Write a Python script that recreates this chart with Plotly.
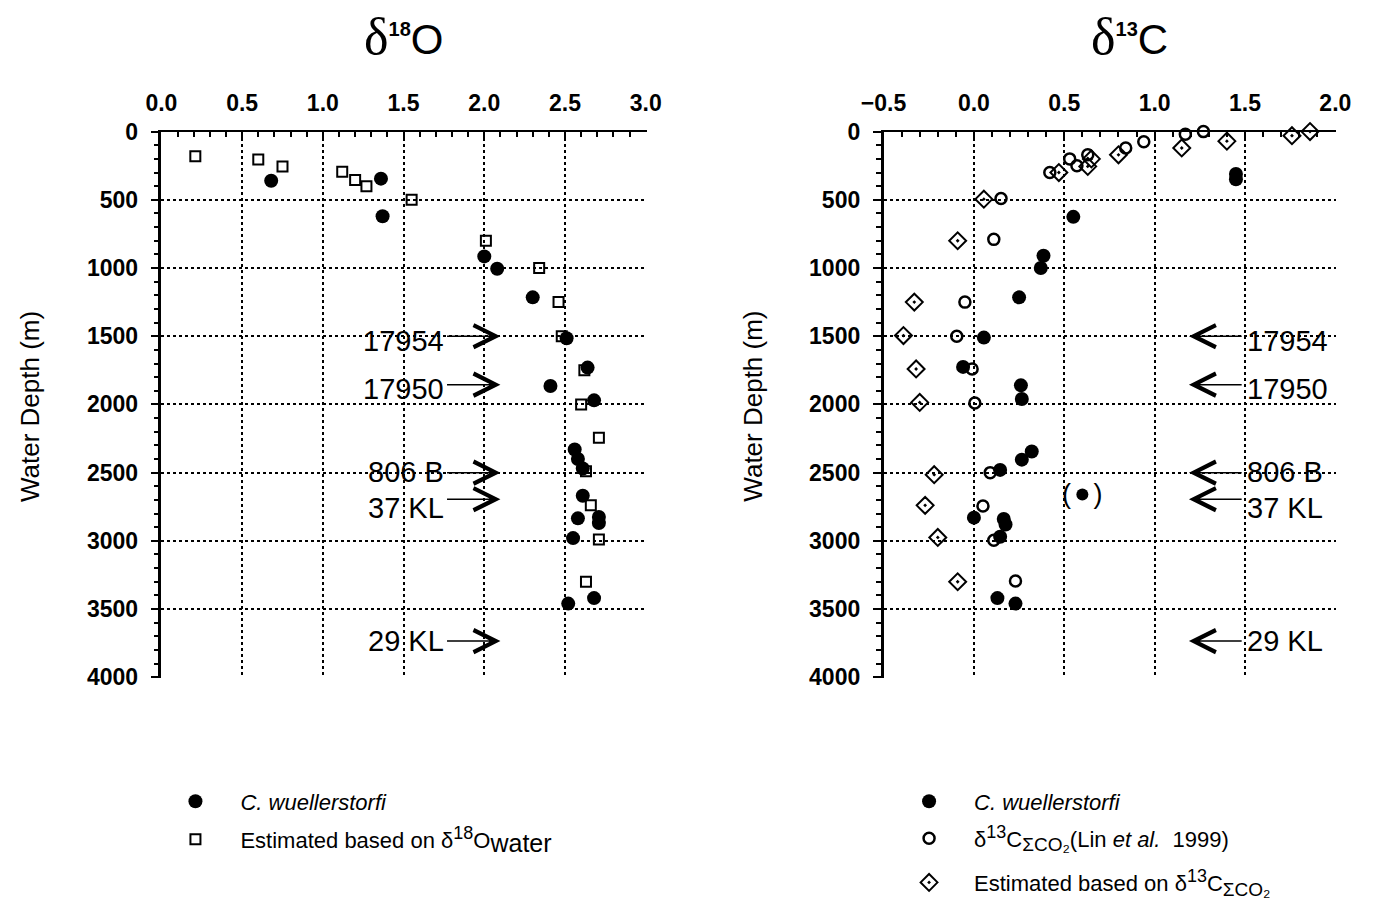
import plotly.graph_objects as go

# d18O panel
o_cw_x = [0.68, 1.36, 1.37, 2.00, 2.08, 2.30, 2.51, 2.64, 2.41, 2.68, 2.56, 2.58, 2.61, 2.61, 2.58, 2.71, 2.71, 2.55, 2.68, 2.52]
o_cw_y = [360, 345, 620, 915, 1005, 1215, 1515, 1730, 1865, 1970, 2330, 2400, 2470, 2670, 2835, 2825, 2870, 2980, 3420, 3460]
o_est_x = [0.21, 0.60, 0.75, 1.12, 1.20, 1.27, 1.55, 2.01, 2.34, 2.46, 2.48, 2.62, 2.60, 2.71, 2.63, 2.66, 2.71, 2.63]
o_est_y = [180, 205, 255, 295, 355, 400, 500, 800, 1000, 1250, 1500, 1750, 2000, 2245, 2490, 2740, 2990, 3300]

# d13C panel
c_cw_x = [1.45, 1.45, 0.55, 0.385, 0.37, 0.25, 0.055, -0.06, 0.26, 0.265, 0.32, 0.265, 0.145, 0.0, 0.165, 0.175, 0.145, 0.13, 0.23]
c_cw_y = [310, 350, 625, 910, 1000, 1215, 1510, 1725, 1860, 1960, 2345, 2405, 2480, 2830, 2840, 2880, 2970, 3420, 3460]
c_cw_doubt_x = [0.60]
c_cw_doubt_y = [2660]
c_lin_x = [1.27, 1.17, 0.94, 0.84, 0.63, 0.53, 0.57, 0.42, 0.15, 0.11, -0.05, -0.095, -0.01, 0.005, 0.09, 0.05, 0.11, 0.23]
c_lin_y = [0, 20, 75, 120, 170, 200, 250, 300, 490, 790, 1250, 1500, 1740, 1990, 2500, 2745, 2995, 3295]
c_est_x = [1.86, 1.76, 1.40, 1.15, 0.80, 0.65, 0.63, 0.47, 0.055, -0.09, -0.33, -0.39, -0.32, -0.30, -0.22, -0.27, -0.20, -0.09]
c_est_y = [0, 30, 70, 120, 170, 200, 255, 300, 495, 800, 1250, 1495, 1740, 1985, 2515, 2740, 2975, 3300]

# core sites
cores = ["17954", "17950", "806 B", "37 KL", "29 KL"]
core_depths = [1500, 1855, 2500, 2695, 3735]
label_dy = [-5, -4, 1, -9, 0]  # label offset from its arrow, px

FONT = "Arial, Liberation Sans, sans-serif"
W, H = 1391, 918
ML, MR, MT, MB = 40, 20, 40, 20
PW, PH = W - ML - MR, H - MT - MB
# page placement as seen in the screenshot (body margin etc.)
SX, CX = 0.9966, 4.5
SY, CY = 0.9927, 7.9


def px(p):
    return ((p - CX) / SX - ML) / PW


def py(p):
    return 1 - ((p - CY) / SY - MT) / PH


fig = go.Figure()

fig.add_trace(go.Scatter(x=o_cw_x, y=o_cw_y, mode="markers", name="<i>C. wuellerstorfi</i>",
                         marker=dict(symbol="circle", size=14, color="black"),
                         xaxis="x", yaxis="y", legend="legend", cliponaxis=False))
fig.add_trace(go.Scatter(x=o_est_x, y=o_est_y, mode="markers",
                         name="Estimated based on δ<sup><span style='font-size:18px'>18</span></sup>"
                              "O<sub><span style='font-size:25px'>water</span></sub>",
                         marker=dict(symbol="square-open", size=10, color="black", line=dict(width=2)),
                         xaxis="x", yaxis="y", legend="legend2", cliponaxis=False))

fig.add_trace(go.Scatter(x=c_cw_x, y=c_cw_y, mode="markers", name="<i>C. wuellerstorfi</i>",
                         marker=dict(symbol="circle", size=14, color="black"),
                         xaxis="x2", yaxis="y2", legend="legend3", cliponaxis=False))
fig.add_trace(go.Scatter(x=c_cw_doubt_x, y=c_cw_doubt_y, mode="markers", showlegend=False,
                         marker=dict(symbol="circle", size=12, color="black"),
                         xaxis="x2", yaxis="y2"))
fig.add_trace(go.Scatter(x=c_lin_x, y=c_lin_y, mode="markers",
                         name="δ<sup><span style='font-size:18px'>13</span></sup>"
                              "C<sub><span style='font-size:19px'>ΣCO₂</span></sub>(Lin <i>et al.</i>  1999)",
                         marker=dict(symbol="circle-open", size=11, color="black", line=dict(width=2.5)),
                         xaxis="x2", yaxis="y2", legend="legend4", cliponaxis=False))
fig.add_trace(go.Scatter(x=c_est_x, y=c_est_y, mode="markers",
                         name="Estimated based on δ<sup><span style='font-size:18px'>13</span></sup>"
                              "C<sub><span style='font-size:19px'>ΣCO₂</span></sub>",
                         marker=dict(symbol="diamond-open-dot", size=13, color="black", line=dict(width=2)),
                         xaxis="x2", yaxis="y2", legend="legend5", cliponaxis=False))

ann = []
for name, d, dy in zip(cores, core_depths, label_dy):
    # left panel: label then arrow pointing right
    ann.append(dict(x=2.1, y=d, ax=1.76, ay=d, xref="x", yref="y", axref="x", ayref="y",
                    text="", showarrow=True, arrowhead=5, arrowsize=2.9, arrowwidth=1.5, arrowcolor="black"))
    ann.append(dict(x=1.765, y=d, xref="x", yref="y", text=name, showarrow=False,
                    xanchor="right", yanchor="middle", yshift=dy,
                    font=dict(family=FONT, size=29, color="black")))
    # right panel: arrow pointing left then label
    ann.append(dict(x=1.19, y=d, ax=1.49, ay=d, xref="x2", yref="y2", axref="x2", ayref="y2",
                    text="", showarrow=True, arrowhead=5, arrowsize=2.9, arrowwidth=1.5, arrowcolor="black"))
    ann.append(dict(x=1.5, y=d, xref="x2", yref="y2", text=name, showarrow=False,
                    xanchor="left", yanchor="middle", yshift=dy,
                    font=dict(family=FONT, size=29, color="black")))

ann.append(dict(x=c_cw_doubt_x[0], y=c_cw_doubt_y[0], xref="x2", yref="y2", text="(   )",
                showarrow=False, font=dict(family=FONT, size=27, color="black")))

SUP = "<sup><span style='font-size:20px;font-weight:bold'>{}</span></sup>"
DEL = "<span style='font-family:Liberation Serif, Times New Roman, serif;font-size:52px'>δ</span>"
for xp, txt in [(401, DEL + SUP.format("18") + "O"), (1128, DEL + SUP.format("13") + "C")]:
    ann.append(dict(x=px(xp), y=py(36), xref="paper", yref="paper", text=txt,
                    xanchor="center", yanchor="middle",
                    showarrow=False, font=dict(family=FONT, size=42, color="black")))
for xp in [27, 751]:
    ann.append(dict(x=px(xp), y=py(405), xref="paper", yref="paper", text="Water Depth (m)",
                    xanchor="center", yanchor="middle",
                    textangle=-90, showarrow=False, font=dict(family=FONT, size=26, color="black")))


def xaxis_style(rng, dom):
    return dict(range=rng, domain=dom, side="top", dtick=0.5, tickformat=".1f",
                showline=True, linecolor="black", linewidth=2,
                ticks="inside", ticklen=8, tickwidth=2, tickcolor="black",
                minor=dict(dtick=0.1, ticks="inside", ticklen=5, tickwidth=1.5, tickcolor="black", showgrid=False),
                showgrid=True, gridcolor="black", gridwidth=2, griddash="dot", zeroline=False,
                tickfont=dict(family=FONT, size=23, color="black", weight="bold"), ticklabelstandoff=9)


def yaxis_style(anchor, dom):
    return dict(range=[4006, 0], domain=dom, anchor=anchor, dtick=500,
                showline=True, linecolor="black", linewidth=2.5,
                ticks="outside", ticklen=8, tickwidth=2, tickcolor="black",
                minor=dict(dtick=100, ticks="outside", ticklen=5, tickwidth=1.5, tickcolor="black", showgrid=False),
                showgrid=True, gridcolor="black", gridwidth=2, griddash="dot", zeroline=False,
                tickfont=dict(family=FONT, size=23, color="black", weight="bold"), ticklabelstandoff=8)


def legend_at(xp, yp):
    return dict(x=px(xp), y=py(yp), xanchor="left", yanchor="middle", itemwidth=80,
                font=dict(family=FONT, size=22, color="black"), bgcolor="rgba(0,0,0,0)")


ydom = [py(676), py(131)]
fig.update_layout(
    width=W, height=H,
    margin=dict(l=ML, r=MR, t=MT, b=MB),
    paper_bgcolor="white", plot_bgcolor="white",
    xaxis=dict(anchor="y", **xaxis_style([0, 3.005], [px(158), px(644)])),
    yaxis=yaxis_style("x", ydom),
    xaxis2=dict(anchor="y2", **xaxis_style([-0.5, 2.005], [px(881.5), px(1335)])),
    yaxis2=yaxis_style("x2", ydom),
    annotations=ann,
    legend=legend_at(147, 799),
    legend2=legend_at(147, 837),
    legend3=legend_at(882, 799),
    legend4=legend_at(882, 836),
    legend5=legend_at(882, 880),
    showlegend=True,
)

fig.write_html("out.html")
